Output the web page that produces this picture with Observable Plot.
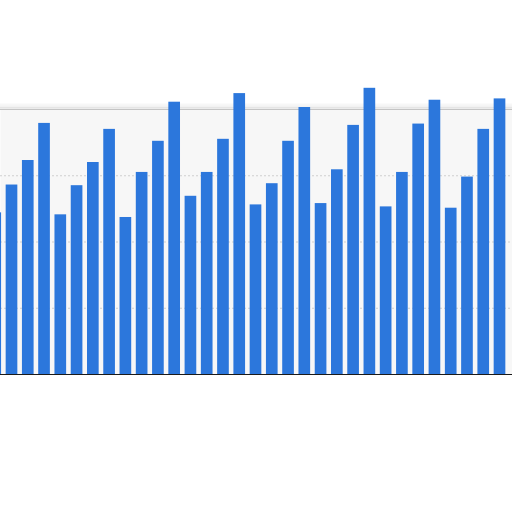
<!DOCTYPE html>
<html>
<head>
<meta charset="utf-8">
<script src="https://cdn.jsdelivr.net/npm/d3@7"></script>
<script src="https://cdn.jsdelivr.net/npm/@observablehq/plot@0.6"></script>
<style>
  html, body { margin: 0; padding: 0; background: #fff; overflow: hidden; }
  #chart svg { display: block; }
</style>
</head>
<body>
<div id="chart"></div>
<script>
// Quarterly periods (first one is partially cut at the left edge)
const periods = [
  "Y1 Q1","Y1 Q2","Y1 Q3","Y1 Q4",
  "Y2 Q1","Y2 Q2","Y2 Q3","Y2 Q4",
  "Y3 Q1","Y3 Q2","Y3 Q3","Y3 Q4",
  "Y4 Q1","Y4 Q2","Y4 Q3","Y4 Q4",
  "Y5 Q1","Y5 Q2","Y5 Q3","Y5 Q4",
  "Y6 Q1","Y6 Q2","Y6 Q3","Y6 Q4",
  "Y7 Q1","Y7 Q2","Y7 Q3","Y7 Q4",
  "Y8 Q1","Y8 Q2","Y8 Q3","Y8 Q4"
];
const values = [
  244, 286, 323, 379,
  241, 285, 320, 370,
  237, 305, 352, 411,
  269, 305, 355, 424,
  256, 288, 352, 403,
  258, 309, 376, 432,
  253, 305, 378, 414,
  251, 298, 370, 416
];
const gridValues = [100, 200, 300];
const topValue = 400;

const data = periods.map((p, i) => ({period: p, index: i, value: values[i]}));

const chart = Plot.plot({
  width: 512,
  height: 512,
  marginTop: 109,
  marginBottom: 138,
  marginLeft: 0,
  marginRight: 0,
  style: {background: "#fff"},
  x: {type: "linear", domain: [0.793, 32.268], axis: null},
  y: {domain: [0, topValue], axis: null},
  marks: [
    Plot.frame({fill: "#f7f7f7", stroke: null}),
    // soft shadow above the top edge
    Plot.ruleY([topValue], {stroke: "#000", strokeOpacity: 0.03, strokeWidth: 2, dy: -5}),
    Plot.ruleY([topValue], {stroke: "#000", strokeOpacity: 0.05, strokeWidth: 2, dy: -3}),
    Plot.ruleY([topValue], {stroke: "#000", strokeOpacity: 0.08, strokeWidth: 2, dy: -1.5}),
    Plot.ruleY([topValue], {stroke: "#c4c4c4", strokeWidth: 1.2}),
    Plot.ruleY(gridValues, {stroke: "#cfcfcf", strokeDasharray: "2,2", strokeWidth: 1}),
    Plot.rectY(data, {
      x1: d => d.index,
      x2: d => d.index + 1,
      y: "value",
      fill: "#2c77dc",
      insetLeft: 2.3,
      insetRight: 2.3
    }),
    Plot.ruleY([0], {stroke: "#1a1a1a", strokeWidth: 1.2})
  ]
});

document.getElementById("chart").append(chart);
</script>
</body>
</html>
